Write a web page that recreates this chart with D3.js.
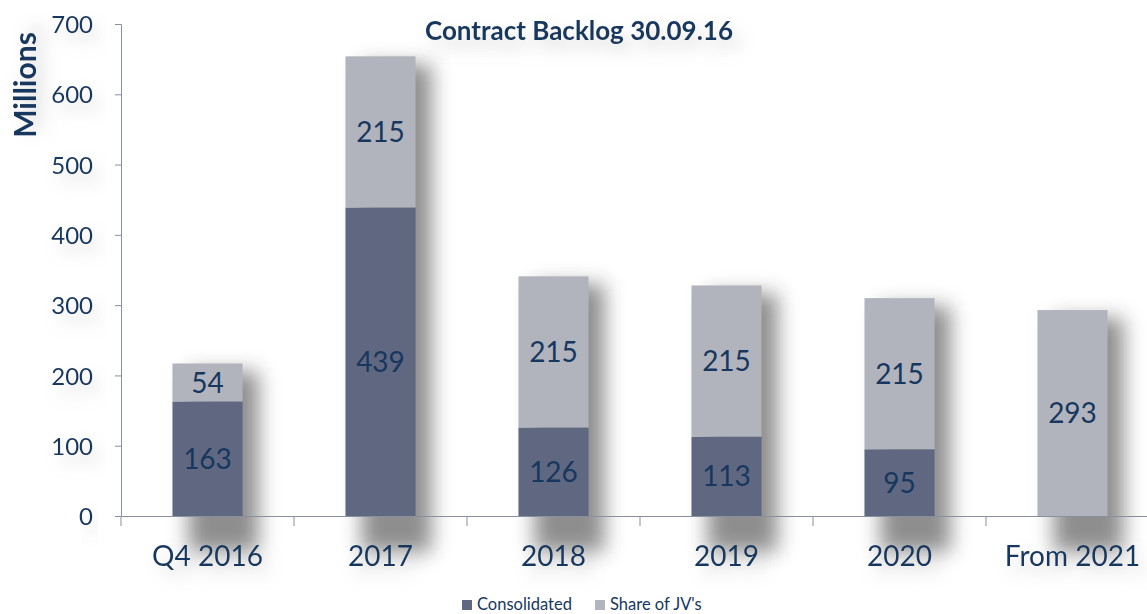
<!DOCTYPE html>
<html>
<head>
<meta charset="utf-8">
<script src="https://cdn.jsdelivr.net/npm/d3@7"></script>
<style>
  body { margin: 0; background: #fff; }
  svg, svg text { font-family: Lato, "Open Sans", sans-serif; }
</style>
</head>
<body>
<script>
var width = 1147;
var height = 614;

var categories = ['Q4 2016', '2017', '2018', '2019', '2020', 'From 2021'];
var consolidated = [163, 439, 126, 113, 95, 0];
var shareOfJVs = [54, 215, 215, 215, 215, 293];
var yTicks = [0, 100, 200, 300, 400, 500, 600, 700];
var seriesNames = ['Consolidated', "Share of JV's"];

var navy = '#17375e';
var colors = ['#5f6880', '#b1b4bd'];

var svg = d3.select('body').append('svg')
    .attr('width', width)
    .attr('height', height);

var defs = svg.append('defs');
var shadow = defs.append('filter').attr('id', 'shadow')
    .attr('x', '-50%').attr('y', '-50%').attr('width', '200%').attr('height', '200%');
shadow.append('feGaussianBlur').attr('stdDeviation', 10);

// grey blurred glow under a text, kept in one element
var glow = defs.append('filter').attr('id', 'glow')
    .attr('x', '-30%').attr('y', '-80%').attr('width', '160%').attr('height', '260%');
glow.append('feGaussianBlur').attr('in', 'SourceAlpha').attr('stdDeviation', 8).attr('result', 'blur');
glow.append('feOffset').attr('in', 'blur').attr('dx', 7).attr('dy', 9).attr('result', 'off');
glow.append('feFlood').attr('flood-color', '#999').attr('flood-opacity', 0.4);
glow.append('feComposite').attr('in2', 'off').attr('operator', 'in').attr('result', 'shade');
var merge = glow.append('feMerge');
merge.append('feMergeNode').attr('in', 'shade');
merge.append('feMergeNode').attr('in', 'SourceGraphic');

var plotLeft = 121, plotRight = 1159, plotTop = 24, plotBottom = 516;

var x = d3.scaleBand()
    .domain(categories)
    .range([plotLeft, plotRight])
    .paddingInner(0.595)
    .paddingOuter(0.2975);

var y = d3.scaleLinear()
    .domain([0, 700])
    .range([plotBottom, plotTop]);

var rows = categories.map((c, i) => {
    return { cat: c, cons: consolidated[i], jv: shareOfJVs[i] };
});

var shadows = svg.append('g');
shadows.selectAll('rect')
    .data(rows)
    .enter().append('rect')
    .attr('x', (d) => x(d.cat) + 16)
    .attr('y', (d) => y(d.cons + d.jv) + 8)
    .attr('width', x.bandwidth())
    .attr('height', (d) => plotBottom - y(d.cons + d.jv) + 28)
    .attr('fill', '#333')
    .attr('opacity', 0.55)
    .attr('filter', 'url(#shadow)');

// axes
var yAxis = svg.append('g')
    .attr('transform', `translate(${plotLeft},0)`)
    .call(d3.axisLeft(y).tickValues(yTicks).tickSize(6).tickPadding(22));
yAxis.attr('font-family', null);
yAxis.select('.domain').attr('stroke', '#8a8fa0');
yAxis.selectAll('.tick line').attr('stroke', '#8a8fa0');
yAxis.selectAll('.tick text')
    .attr('fill', navy)
    .attr('filter', 'url(#glow)')
    .style('font-size', '24px')
    .attr('dy', '0.36em');

var xAxis = svg.append('g')
    .attr('transform', `translate(0,${plotBottom})`)
    .call(d3.axisBottom(x).tickSize(0).tickPadding(30));
xAxis.attr('font-family', null);
xAxis.select('.domain').attr('stroke', '#8a8fa0');
xAxis.selectAll('.tick text')
    .attr('fill', navy)
    .attr('filter', 'url(#glow)')
    .style('font-size', '28px');

var step = x.step();
xAxis.selectAll('.sep')
    .data(d3.range(categories.length + 1))
    .enter().append('line')
    .attr('x1', (i) => plotLeft + i * step)
    .attr('x2', (i) => plotLeft + i * step)
    .attr('y1', 0).attr('y2', 10)
    .attr('stroke', '#8a8fa0');

// bars
var bars = svg.append('g');
bars.selectAll('.cons')
    .data(rows)
    .enter().append('rect')
    .attr('x', (d) => x(d.cat))
    .attr('y', (d) => y(d.cons))
    .attr('width', x.bandwidth())
    .attr('height', (d) => plotBottom - y(d.cons))
    .attr('fill', colors[0]);

bars.selectAll('.jv')
    .data(rows)
    .enter().append('rect')
    .attr('x', (d) => x(d.cat))
    .attr('y', (d) => y(d.cons + d.jv))
    .attr('width', x.bandwidth())
    .attr('height', (d) => y(d.cons) - y(d.cons + d.jv))
    .attr('fill', colors[1]);

// labels
var labels = svg.append('g')
    .attr('fill', navy)
    .style('font-size', '28px')
    .attr('text-anchor', 'middle');

labels.selectAll('.lc')
    .data(rows.filter((d) => d.cons > 0))
    .enter().append('text')
    .attr('x', (d) => x(d.cat) + x.bandwidth() / 2)
    .attr('y', (d) => y(d.cons / 2))
    .attr('dy', '0.36em')
    .text((d) => d.cons);

labels.selectAll('.lj')
    .data(rows)
    .enter().append('text')
    .attr('x', (d) => x(d.cat) + x.bandwidth() / 2)
    .attr('y', (d) => y(d.cons + d.jv / 2))
    .attr('dy', '0.36em')
    .text((d) => d.jv);

// title
svg.append('text')
    .attr('x', 579).attr('y', 40)
    .attr('text-anchor', 'middle')
    .attr('fill', navy)
    .attr('filter', 'url(#glow)')
    .style('font-size', '26px')
    .style('font-weight', 'bold')
    .text('Contract Backlog 30.09.16');

svg.append('text')
    .attr('transform', 'translate(36,85) rotate(-90)')
    .attr('text-anchor', 'middle')
    .attr('fill', navy)
    .attr('filter', 'url(#glow)')
    .style('font-size', '30px')
    .style('font-weight', 'bold')
    .text('Millions');

// legend
var legend = svg.append('g')
    .attr('transform', 'translate(462,600)');
var lg = legend.selectAll('g')
    .data(seriesNames)
    .enter().append('g')
    .attr('transform', (d, i) => `translate(${i * 133},0)`);
lg.append('rect')
    .attr('width', 10).attr('height', 10)
    .attr('fill', (d, i) => colors[i]);
lg.append('text')
    .attr('x', 15).attr('y', 10)
    .attr('fill', navy)
    .style('font-size', '16.5px')
    .text((d) => d);
</script>
</body>
</html>
